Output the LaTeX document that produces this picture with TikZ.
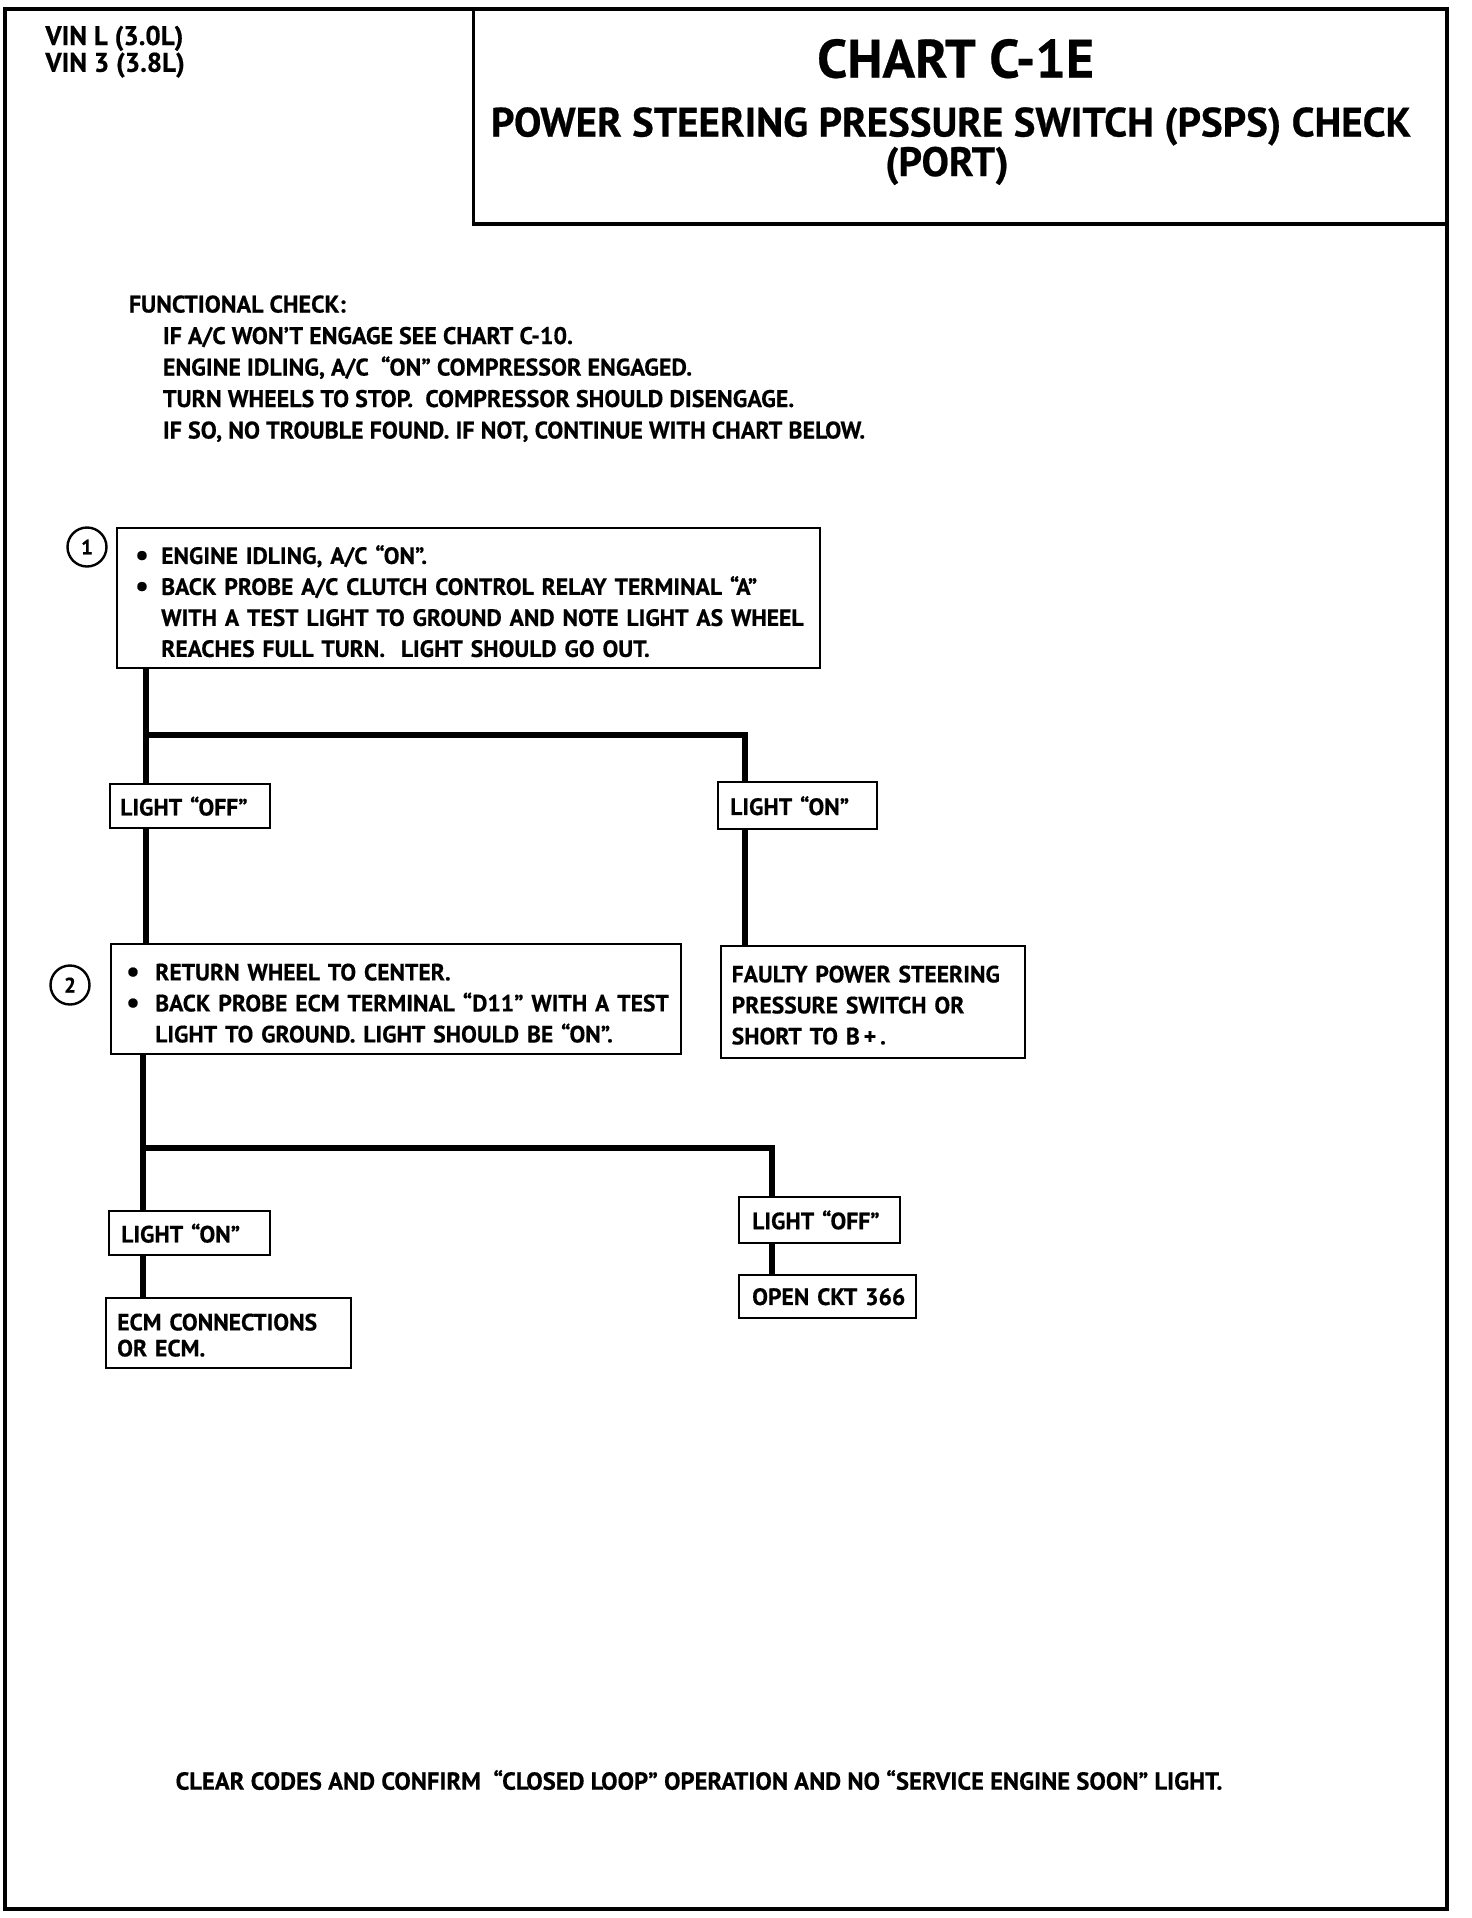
\documentclass[tikz,border=0pt]{standalone}
\usepackage{fontspec}
\setmainfont{PT Sans}[BoldFeatures={FakeBold=0.5}]
\usetikzlibrary{positioning}
\newcommand{\boxfont}{\fontsize{11.8}{15.5}\selectfont\bfseries}
\newcommand{\bigbul}{{\fontsize{15}{15}\selectfont\raisebox{-0.5pt}{\textbullet}}}
\newcommand{\bullist}[2]{\raisebox{-3pt}[\height][\depth]{\begin{tabular}{@{}p{#1}@{}l@{}}#2\end{tabular}}}
\newcommand{\boxlines}[1]{\raisebox{-2.5pt}[\height][\depth]{\begin{tabular}{@{}l@{}}#1\end{tabular}}}
\newcommand{\lines}[1]{\begin{tabular}[t]{@{}l@{}}#1\end{tabular}}

\begin{document}
\begin{tikzpicture}[x=0.5pt,y=-0.5pt,
  frame/.style={line width=1.8pt},
  box/.style={draw,line width=1.2pt,anchor=north west,inner ysep=0pt,align=left,font=\boxfont},
  conn/.style={line width=3pt},
  num/.style={draw,circle,line width=1.2pt,minimum size=19.5pt,inner sep=0pt,font=\fontsize{10.5}{12}\selectfont\bfseries}]
\useasboundingbox (0,0) rectangle (1472,1918);
\draw[frame] (5,9) rectangle (1447,1909);
\draw[frame] (473.5,9) -- (473.5,224) -- (1447,224);
\node[anchor=base west,inner sep=0pt,font=\fontsize{13.5}{12.5}\selectfont\bfseries] (vin) at (45,45) {\lines{VIN L (3.0L)\\ VIN 3 (3.8L)}};
\node[inner sep=0pt,font=\fontsize{27}{30}\selectfont\bfseries] (chart) at (955.6,58.7) {CHART C-1E};
\node[anchor=base,inner sep=0pt,font=\fontsize{20.5}{22}\selectfont\bfseries] (psps) at (951,136.5) {POWER STEERING PRESSURE SWITCH (PSPS) CHECK};
\node[anchor=base,inner sep=0pt,font=\fontsize{20.5}{22}\selectfont\bfseries] (port) at (947,176) {(PORT)};
\node[anchor=base west,inner sep=0pt,font=\fontsize{12}{15.75}\selectfont\bfseries] (fcheck) at (128.5,312.5) {\lines{FUNCTIONAL CHECK:\\
  \hspace*{17pt}IF A/C WON’T ENGAGE SEE CHART C-10.\\
  \hspace*{17pt}ENGINE IDLING, A/C\ \ ``ON'' COMPRESSOR ENGAGED.\\
  \hspace*{17pt}TURN WHEELS TO STOP.\ \ COMPRESSOR SHOULD DISENGAGE.\\
  \hspace*{17pt}IF SO, NO TROUBLE FOUND. IF NOT, CONTINUE WITH CHART BELOW.}};
% first step
\node[num] (n1) at (87,547) {1};
\node[box,minimum width=351.5pt,minimum height=70pt,inner xsep=9pt,text width=333.5pt] (b1) at (116,527) {\bullist{13pt}{\bigbul & ENGINE IDLING, A/C ``ON''.\\
  \bigbul & BACK PROBE A/C CLUTCH CONTROL RELAY TERMINAL ``A''\\
  & WITH A TEST LIGHT TO GROUND AND NOTE LIGHT AS WHEEL\\
  & REACHES FULL TURN.\ \ LIGHT SHOULD GO OUT.}};
\node[box,minimum width=80pt,minimum height=22pt,inner xsep=5pt,text width=70pt] (off1) at (109,783) {\mbox{LIGHT ``OFF''}};
\node[box,minimum width=79.5pt,minimum height=23.5pt,inner xsep=6pt,text width=67.5pt] (on1) at (717,781) {\mbox{LIGHT ``ON''}};
% second step
\node[num] (n2) at (70,985) {2};
\node[box,minimum width=285pt,minimum height=55pt,inner xsep=7.5pt,text width=270pt] (b2) at (110,943) {\bullist{14.5pt}{\bigbul & RETURN WHEEL TO CENTER.\\
  \bigbul & BACK PROBE ECM TERMINAL ``D11'' WITH A TEST\\
  & LIGHT TO GROUND. LIGHT SHOULD BE ``ON''.}};
\node[box,minimum width=152.25pt,minimum height=56pt,inner xsep=5.5pt,text width=141.25pt] (fault) at (719.5,945) {\boxlines{FAULTY POWER STEERING\\ PRESSURE SWITCH OR\\ SHORT TO B\,+\,.}};
\node[box,minimum width=80.5pt,minimum height=22pt,inner xsep=6pt,text width=68.5pt] (on2) at (108,1210) {\mbox{LIGHT ``ON''}};
\node[box,minimum width=80.5pt,minimum height=23.25pt,inner xsep=6.5pt,text width=67.5pt] (off2) at (738,1195.5) {\mbox{LIGHT ``OFF''}};
\node[box,minimum width=122.5pt,minimum height=35pt,inner xsep=5.5pt,text width=111.5pt,font=\fontsize{11.8}{13}\selectfont\bfseries] (ecm) at (105,1297) {\boxlines{ECM CONNECTIONS\\ OR ECM.}};
\node[box,minimum width=88.5pt,minimum height=21.5pt,inner xsep=6.5pt,text width=75.5pt] (open) at (738,1274) {\mbox{OPEN CKT 366}};
% connectors
\coordinate (j1) at (145.5,735); \coordinate (k1) at (745,735);
\coordinate (j2) at (143,1148); \coordinate (k2) at (772,1148);
\draw[conn] (j1|-b1.south) -- (j1|-off1.north); \draw[conn] (j1) -- (k1) -- (k1|-on1.north);
\draw[conn] (j1|-off1.south) -- (j1|-b2.north); \draw[conn] (k1|-on1.south) -- (k1|-fault.north);
\draw[conn] (j2|-b2.south) -- (j2|-on2.north); \draw[conn] (j2) -- (k2) -- (k2|-off2.north);
\draw[conn] (j2|-on2.south) -- (j2|-ecm.north); \draw[conn] (k2|-off2.south) -- (k2|-open.north);
\node[inner sep=0pt,font=\fontsize{12.3}{13}\selectfont\bfseries] (clear) at (699,1780) {CLEAR CODES AND CONFIRM\ \ ``CLOSED LOOP'' OPERATION AND NO ``SERVICE ENGINE SOON'' LIGHT.};
\end{tikzpicture}
\end{document}
